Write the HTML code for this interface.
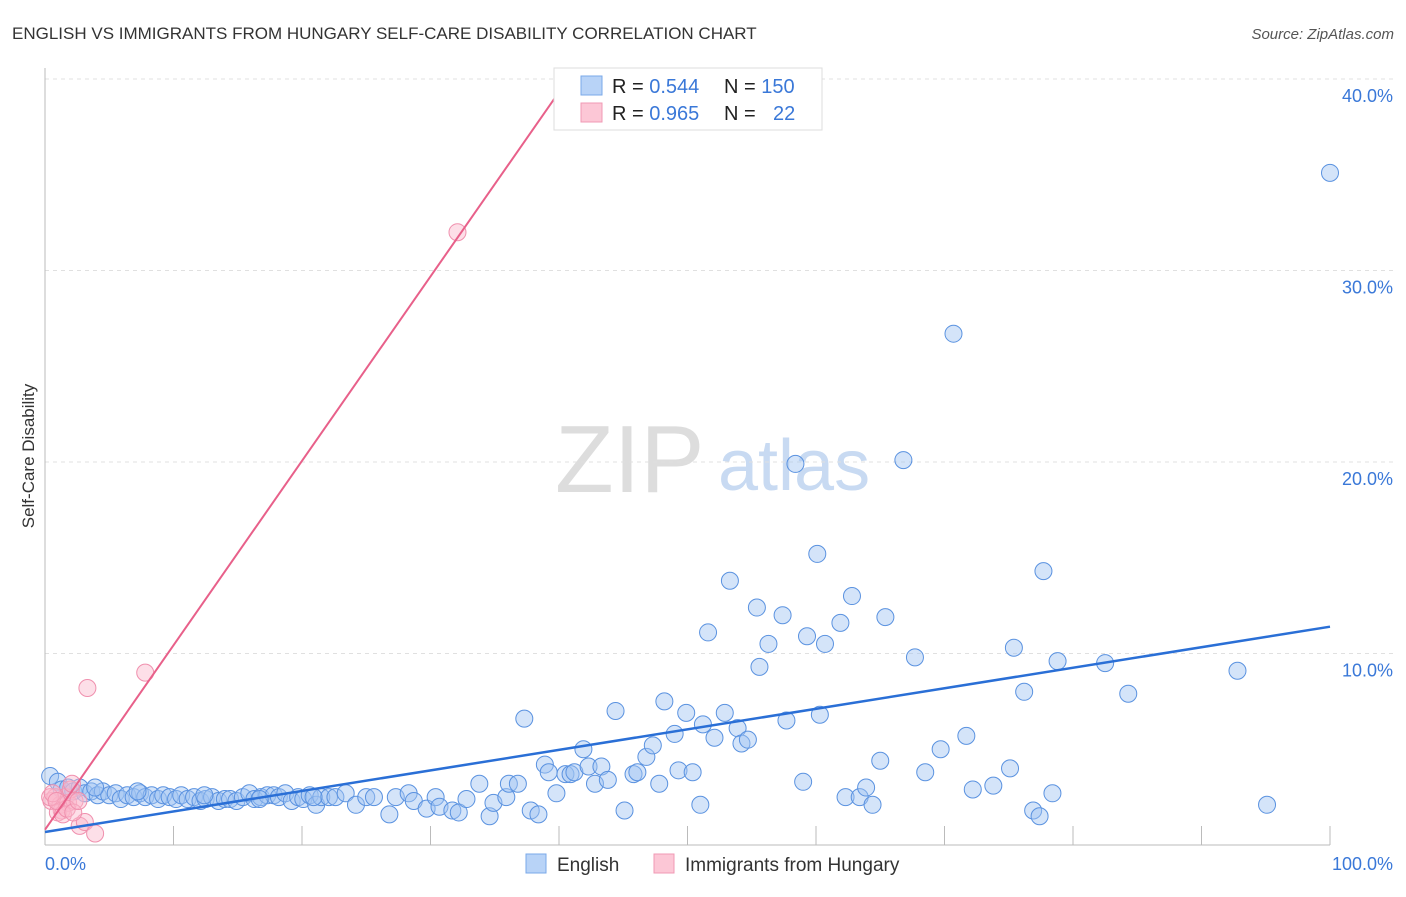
<!DOCTYPE html>
<html><head><meta charset="utf-8"><style>
body{margin:0;background:#fff;font-family:"Liberation Sans",sans-serif}
svg text{font-family:"Liberation Sans",sans-serif}
</style></head><body>
<svg width="1406" height="892" xmlns="http://www.w3.org/2000/svg">
<text x="12" y="39" font-size="17" fill="#333">ENGLISH VS IMMIGRANTS FROM HUNGARY SELF-CARE DISABILITY CORRELATION CHART</text>
<text x="1394" y="39" font-size="15" fill="#555" font-style="italic" text-anchor="end">Source: ZipAtlas.com</text>
<g>
<text x="555" y="492" font-size="96" font-family="Liberation Serif" fill="#ddd">ZIP</text>
<text x="718" y="490" font-size="72" fill="#c8daf2">atlas</text>
</g>
<g id="grid"></g>
<line x1="45" y1="68" x2="45" y2="845" stroke="#bbb"/>
<line x1="45" y1="845" x2="1330" y2="845" stroke="#bbb"/>
<text x="34" y="456" font-size="17" fill="#333" transform="rotate(-90 34 456)" text-anchor="middle">Self-Care Disability</text>
<text x="45" y="870" font-size="18" fill="#3a78d8">0.0%</text>
<text x="1393" y="870" font-size="18" fill="#3a78d8" text-anchor="end">100.0%</text>
<g id="pts"></g>
<g id="lines"></g>
<g>
<rect x="554" y="68" width="268" height="62" fill="#fff" stroke="#ddd"/>
<rect x="581" y="76" width="21" height="19" fill="#b8d3f7" stroke="#7aa8e8"/>
<rect x="581" y="103" width="21" height="19" fill="#fcc7d6" stroke="#f09ab4"/>
<text x="612" y="93" font-size="20" fill="#222">R = <tspan fill="#3a78d8">0.544</tspan><tspan x="724">N = </tspan><tspan fill="#3a78d8">150</tspan></text>
<text x="612" y="120" font-size="20" fill="#222">R = <tspan fill="#3a78d8">0.965</tspan><tspan x="724">N = </tspan><tspan x="773" fill="#3a78d8">22</tspan></text>
</g>
<g>
<rect x="526" y="854" width="20" height="19" fill="#b8d3f7" stroke="#7aa8e8"/>
<text x="557" y="871" font-size="19" fill="#333">English</text>
<rect x="654" y="854" width="20" height="19" fill="#fcc7d6" stroke="#f09ab4"/>
<text x="685" y="871" font-size="19" fill="#333">Immigrants from Hungary</text>
</g>
</svg>
<script>
const yTicks=[10,20,30,40];
const yTickLabels=["10.0%","20.0%","30.0%","40.0%"];
const xTicks=[0,10,20,30,40,50,60,70,80,90,100];
const englishDenseX=[0.4,1,1.3,1.8,2.2,2.7,3.1,3.6,4.1,4.5,5,5.5,5.9,6.4,6.9,7.4,7.8,8.3,8.8,9.2,9.7,10.2,10.6,11.1,11.6,12.1,12.5,13,13.5,14,14.4,14.9,15.4,15.9,16.3,16.8,17.3,17.8,18.2,18.7,19.2,19.7,20.1,20.6,21.1,21.5,22.1,3.9,7.2,12.4,16.7,20.9];
const englishDenseY=[3.6,3.3,2.9,3,2.8,3,2.7,2.8,2.6,2.8,2.6,2.7,2.4,2.6,2.5,2.7,2.5,2.6,2.4,2.6,2.5,2.4,2.6,2.4,2.5,2.3,2.4,2.5,2.3,2.4,2.4,2.3,2.5,2.7,2.4,2.5,2.6,2.6,2.5,2.7,2.3,2.5,2.4,2.6,2.1,2.5,2.5,3.0,2.8,2.6,2.4,2.5];
const englishX=[22.6,23.4,24.2,25.0,25.6,26.8,27.3,28.3,28.7,29.7,30.4,30.7,31.7,32.2,32.8,33.8,34.6,34.9,35.9,36.1,36.8,37.3,37.8,38.4,38.9,39.2,39.8,40.5,40.9,41.2,41.9,42.3,42.8,43.3,43.8,44.4,45.1,45.8,46.1,46.8,47.3,47.8,48.2,49.0,49.3,49.9,50.4,51.0,51.2,51.6,52.1,52.9,53.3,53.9,54.2,54.7,55.4,55.6,56.3,57.4,57.7,58.4,59.0,59.3,60.1,60.3,60.7,61.9,62.3,62.8,63.4,63.9,64.4,65.0,65.4,66.8,67.7,68.5,69.7,70.7,71.7,72.2,73.8,75.1,75.4,76.2,76.9,77.4,77.7,78.4,78.8,82.5,84.3,92.8,95.1,100];
const englishY=[2.5,2.7,2.1,2.5,2.5,1.6,2.5,2.7,2.3,1.9,2.5,2.0,1.8,1.7,2.4,3.2,1.5,2.2,2.5,3.2,3.2,6.6,1.8,1.6,4.2,3.8,2.7,3.7,3.7,3.8,5.0,4.1,3.2,4.1,3.4,7.0,1.8,3.7,3.8,4.6,5.2,3.2,7.5,5.8,3.9,6.9,3.8,2.1,6.3,11.1,5.6,6.9,13.8,6.1,5.3,5.5,12.4,9.3,10.5,12.0,6.5,19.9,3.3,10.9,15.2,6.8,10.5,11.6,2.5,13.0,2.5,3.0,2.1,4.4,11.9,20.1,9.8,3.8,5.0,26.7,5.7,2.9,3.1,4.0,10.3,8.0,1.8,1.5,14.3,2.7,9.6,9.5,7.9,9.1,2.1,35.1];
const hungaryX=[0.5,0.8,1.2,1.3,1.6,1.8,2,2.1,2.3,1,1.4,2.7,3.1,3.9,0.4,0.6,1.7,2.2,2.6,0.9,3.3,7.8,32.1];
const hungaryY=[2.3,2.5,2.1,1.8,2.5,2.2,2.9,3.2,2.3,1.7,1.6,1.0,1.2,0.6,2.5,2.7,1.9,1.7,2.3,2.3,8.2,9.0,32.0];
const englishTrend=[0.68,11.4];
const hungaryTrend=[0.8,0.963,40.1];
const X=v=>45+v*12.85, Y=v=>845-v*19.15;
const NS="http://www.w3.org/2000/svg";
function mk(t,a,p){const e=document.createElementNS(NS,t);for(const k in a)e.setAttribute(k,a[k]);p.appendChild(e);return e;}
const grid=document.getElementById('grid');
yTicks.forEach((t,i)=>{
 const l=mk('line',{x1:45,x2:1395,y1:Y(t),y2:Y(t),stroke:'#e0e0e0','stroke-dasharray':'4 4'},grid);
 
 
 const tx=mk('text',{x:1393,y:Y(t)+23,'font-size':18,fill:'#3a78d8','text-anchor':'end'},grid);
 tx.textContent=yTickLabels[i];
 
 
});
xTicks.forEach(t=>{
 const l=mk('line',{x1:X(t),x2:X(t),y1:826,y2:845,stroke:'#bbb'},grid);
 
 
});
const pts=document.getElementById('pts');
function blue(xs,ys){xs.forEach((x,i)=>{
 const c=mk('circle',{cx:X(x),cy:Y(ys[i]),r:8.5,fill:'rgba(160,196,242,0.45)',stroke:'#5a92e0','stroke-width':1},pts);
 
 
});}
blue(englishDenseX,englishDenseY);
blue(englishX,englishY);
hungaryX.forEach((x,i)=>{
 const c=mk('circle',{cx:X(x),cy:Y(hungaryY[i]),r:8.5,fill:'rgba(250,185,205,0.45)',stroke:'#f090ae','stroke-width':1},pts);
 
 
});
const lines=document.getElementById('lines');
const bl=mk('line',{x1:X(0),y1:Y(englishTrend[0]),x2:X(100),y2:Y(englishTrend[1]),stroke:'#2a6fd6','stroke-width':2.5},lines);


const pl=mk('line',{x1:X(0),y1:Y(hungaryTrend[0]),x2:X(hungaryTrend[2]),y2:Y(hungaryTrend[0]+hungaryTrend[1]*hungaryTrend[2]),stroke:'#e8608a','stroke-width':2},lines);


</script>
</body></html>
